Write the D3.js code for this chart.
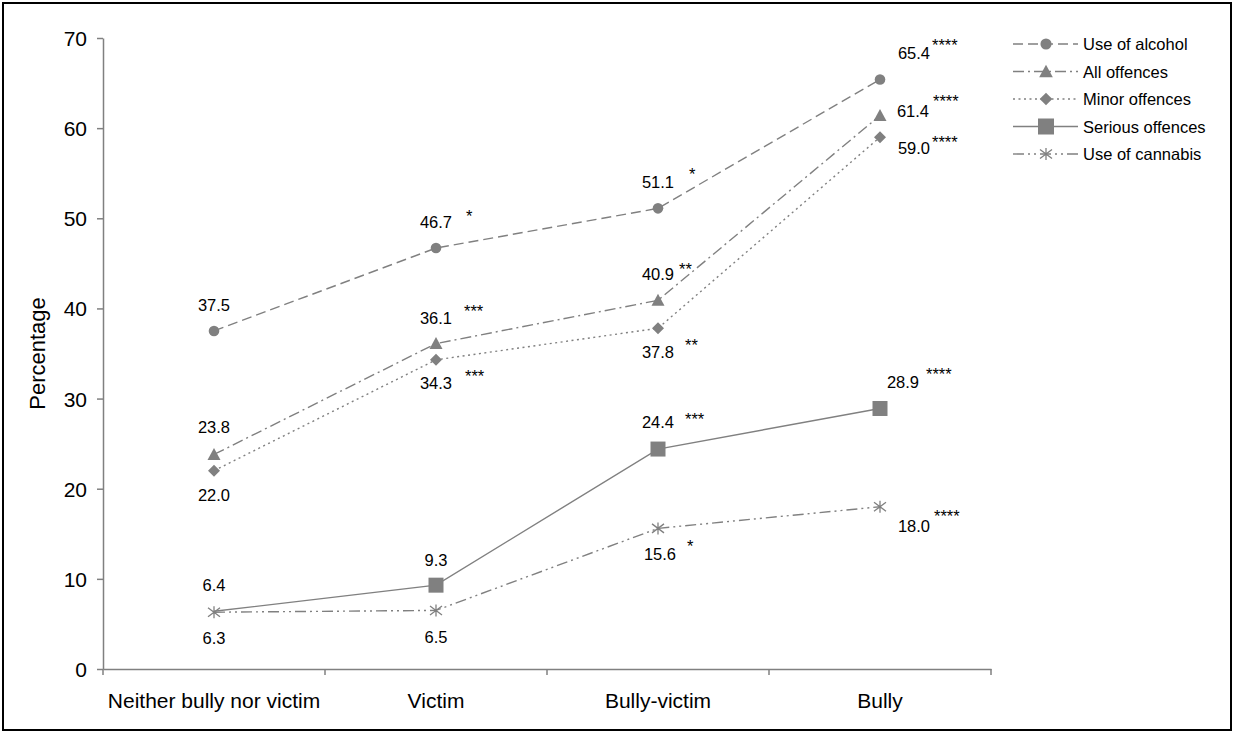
<!DOCTYPE html>
<html>
<head>
<meta charset="utf-8">
<script src="https://cdn.jsdelivr.net/npm/d3@7/dist/d3.min.js"></script>
<style>
	body { margin: 0; background: #fff; }
	svg { display: block; font-family: "Liberation Sans", Arial, sans-serif; }
	.axis path, .axis line { stroke: #808080; stroke-width: 1.5; }
	.axis text { fill: #000; }
</style>
</head>
<body>
<svg id="chart" width="1234" height="733"></svg>
<script>
// Chart data
const categories = ["Neither bully nor victim", "Victim", "Bully-victim", "Bully"];
const seriesNames = ["Use of alcohol", "All offences", "Minor offences", "Serious offences", "Use of cannabis"];
const useOfAlcohol = [37.5, 46.7, 51.1, 65.4];
const allOffences = [23.8, 36.1, 40.9, 61.4];
const minorOffences = [22.0, 34.3, 37.8, 59.0];
const seriousOffences = [6.4, 9.3, 24.4, 28.9];
const useOfCannabis = [6.3, 6.5, 15.6, 18.0];
const alcoholStars = ["", "*", "*", "****"];
const allStars = ["", "***", "**", "****"];
const minorStars = ["", "***", "**", "****"];
const seriousStars = ["", "", "***", "****"];
const cannabisStars = ["", "", "*", "****"];
const yTicks = [0, 10, 20, 30, 40, 50, 60, 70];

const MARGIN = {TOP: 38, LEFT: 103, RIGHT: 991, BOTTOM: 669};
const GREY = "#808080";

// Styling and label placement for each series (dx, dy of label centre; gap and raise of the stars)
const seriesStyle = [
	{dash: "10,5", marker: "circle", place: [[0, -26, 15, -12], [0, -26, 14, -10], [0, -26, 15, -12], [34, -26, 2, -12]]},
	{dash: "11,4,2,4", marker: "triangle", place: [[0, -27, 0, 0], [0, -26, 12, -10], [0, -26, 5, -9], [33, -5, 4, -13]]},
	{dash: "2,3.5", marker: "diamond", place: [[0, 24, 0, 0], [0, 23, 13, -10], [0, 24, 11, -11], [34, 11, 2, -10]]},
	{dash: null, marker: "square", place: [[0, -26, 0, 0], [0, -25, 0, 0], [0, -27, 11, -7], [23, -26, 7, -12]]},
	{dash: "11,4,2,4,2,4", marker: "asterisk", place: [[0, 26, 0, 0], [0, 27, 0, 0], [2, 26, 11, -12], [34, 19, 4, -13]]}
];

const seriesValues = [useOfAlcohol, allOffences, minorOffences, seriousOffences, useOfCannabis];
const seriesStars = [alcoholStars, allStars, minorStars, seriousStars, cannabisStars];
// The serious offences square is not drawn at the first category in the original
const hiddenMarkers = [{series: 3, category: 0}];

const svg = d3.select("#chart");

// outer frame
svg.append("rect")
	.attr("x", 3).attr("y", 3)
	.attr("width", 1228).attr("height", 727)
	.attr("fill", "none")
	.attr("stroke", "#000")
	.attr("stroke-width", 2);

const xScale = d3.scaleBand().domain(categories).range([MARGIN.LEFT, MARGIN.RIGHT]).padding(0);
const xCenter = (c) => xScale(c) + xScale.bandwidth() / 2;
const yScale = d3.scaleLinear().domain([0, 70]).range([MARGIN.BOTTOM, MARGIN.TOP]);

// y axis
const yAxis = svg.append("g")
	.attr("class", "axis")
	.attr("transform", "translate(" + MARGIN.LEFT + ",0)")
	.call(d3.axisLeft(yScale).tickValues(yTicks).tickSize(6).tickSizeOuter(0).tickPadding(10));
yAxis.selectAll("text").attr("font-size", 21).attr("dy", "0.36em");

// x axis, labels centred in each band, ticks on the band edges
const xAxis = svg.append("g")
	.attr("class", "axis")
	.attr("transform", "translate(0," + MARGIN.BOTTOM + ")")
	.call(d3.axisBottom(xScale).tickSize(0).tickPadding(26));
xAxis.selectAll("text").attr("font-size", 21).attr("dy", "0.62em");
xAxis.selectAll(".tick line").remove();
const edges = categories.map((c) => xScale(c)).concat([MARGIN.RIGHT]);
xAxis.selectAll(".edge")
	.data(edges)
	.enter()
	.append("line")
	.attr("class", "edge")
	.attr("x1", (d) => d).attr("x2", (d) => d)
	.attr("y1", 0).attr("y2", 6)
	.attr("stroke", GREY).attr("stroke-width", 1.5);

// y axis title
svg.append("text")
	.attr("transform", "translate(45," + ((MARGIN.TOP + MARGIN.BOTTOM) / 2) + ") rotate(-90)")
	.attr("text-anchor", "middle")
	.attr("font-size", 22)
	.text("Percentage");

// marker drawing helper
function drawMarker(g, type, x, y, big)
{
	const s = big ? 1.05 : 1;
	if (type === "circle") {
		g.append("circle").attr("cx", x).attr("cy", y).attr("r", 5.3 * s).attr("fill", GREY);
	} else if (type === "triangle") {
		g.append("path").attr("d", `M${x},${y - 6.5 * s}L${x + 6.5 * s},${y + 5.5 * s}L${x - 6.5 * s},${y + 5.5 * s}Z`).attr("fill", GREY);
	} else if (type === "diamond") {
		g.append("path").attr("d", `M${x},${y - 6 * s}L${x + 6 * s},${y}L${x},${y + 6 * s}L${x - 6 * s},${y}Z`).attr("fill", GREY);
	} else if (type === "square") {
		const h = big ? 8 : 7.5;
		g.append("rect").attr("x", x - h).attr("y", y - h).attr("width", 2 * h).attr("height", 2 * h).attr("fill", GREY);
	} else if (type === "asterisk") {
		const r = 6;
		g.append("path")
			.attr("d", `M${x - r},${y - r * 0.75}L${x + r},${y + r * 0.75}M${x - r},${y + r * 0.75}L${x + r},${y - r * 0.75}M${x},${y - r}L${x},${y + r}`)
			.attr("stroke", GREY).attr("stroke-width", 1.3).attr("fill", "none");
	}
}

// lines
const line = d3.line()
	.x((d, i) => xCenter(categories[i]))
	.y((d) => yScale(d));

seriesValues.forEach((values, s) => {
	svg.append("path")
		.datum(values)
		.attr("d", line)
		.attr("fill", "none")
		.attr("stroke", GREY)
		.attr("stroke-width", 1.4)
		.attr("stroke-dasharray", seriesStyle[s].dash);
});

// markers and labels
const markers = svg.append("g");
const labels = svg.append("g").attr("font-size", 16.5).attr("fill", "#000");
seriesValues.forEach((values, s) => {
	values.forEach((v, i) => {
		const x = xCenter(categories[i]);
		const y = yScale(v);
		const hidden = hiddenMarkers.some((h) => h.series === s && h.category === i);
		if (!hidden) drawMarker(markers, seriesStyle[s].marker, x, y, false);

		const p = seriesStyle[s].place[i];
		const lx = x + p[0];
		const ly = y + p[1];
		labels.append("text")
			.attr("x", lx).attr("y", ly + 6)
			.attr("text-anchor", "middle")
			.text(v.toFixed(1));
		const stars = seriesStars[s][i];
		if (stars) {
			labels.append("text")
				.attr("x", lx + 16 + p[2]).attr("y", ly + p[3] + 9.5)
				.attr("text-anchor", "start")
				.text(stars);
		}
	});
});

// legend
const legend = svg.append("g").attr("transform", "translate(1013,44)");
seriesNames.forEach((name, s) => {
	const row = legend.append("g").attr("transform", "translate(0," + (s * 27.5) + ")");
	row.append("line")
		.attr("x1", 0).attr("x2", 65)
		.attr("y1", 0).attr("y2", 0)
		.attr("stroke", GREY)
		.attr("stroke-width", 1.4)
		.attr("stroke-dasharray", seriesStyle[s].dash);
	drawMarker(row, seriesStyle[s].marker, 33, 0, true);
	row.append("text")
		.attr("x", 70).attr("y", 6)
		.attr("font-size", 16.5)
		.text(name);
});
</script>
</body>
</html>
